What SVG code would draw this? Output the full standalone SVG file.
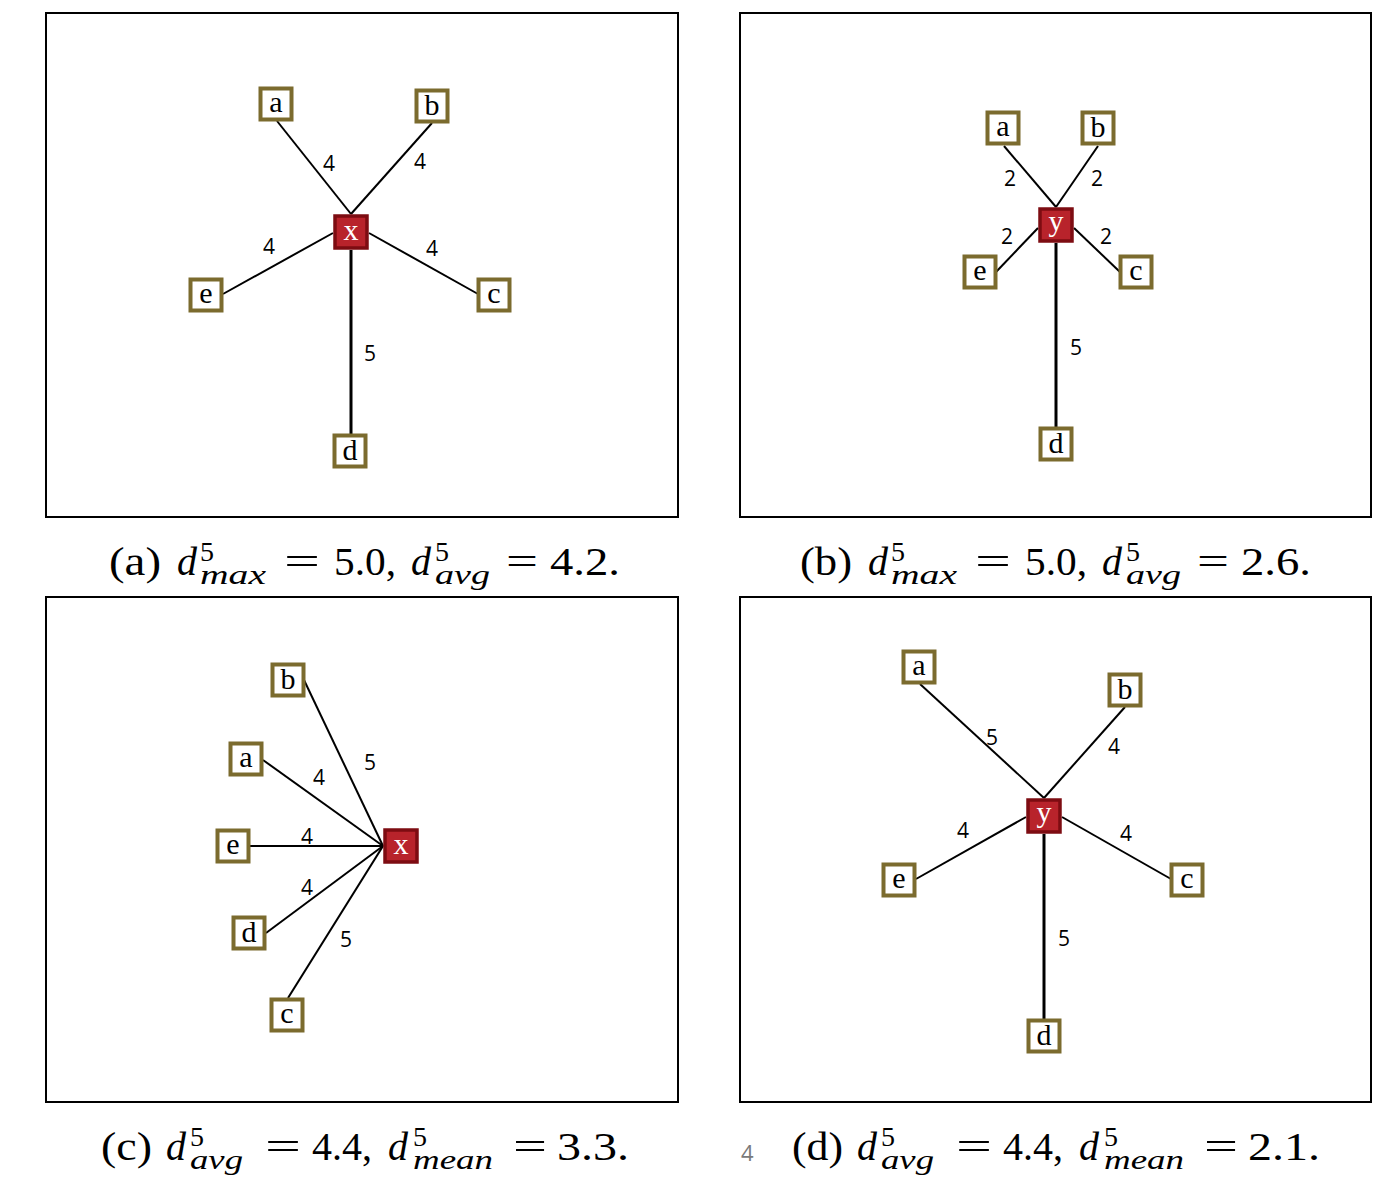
<svg xmlns="http://www.w3.org/2000/svg" width="1388" height="1182" viewBox="0 0 1388 1182">
<style>
.frame{fill:none;stroke:#000;stroke-width:2}
.nb{fill:#fff;stroke:#7b6b2e;stroke-width:4}
.nr{fill:#b8232b;stroke:#7d0c12;stroke-width:3.5}
.nl{font-family:"Liberation Serif",serif;font-size:30px;text-anchor:middle;fill:#000}
.nlw{font-family:"Liberation Serif",serif;font-size:30px;text-anchor:middle;fill:#fff}
.e{stroke:#000;stroke-width:2;fill:none}
.ev{stroke:#000;stroke-width:3;fill:none}
.el{font-family:"Open Sans","DejaVu Sans",sans-serif;font-size:21px;fill:#000;text-anchor:middle}
.cap{font-family:"Liberation Serif",serif;font-size:40px;fill:#000}
.i{font-style:italic}
.s{font-size:28px}
</style>
<rect width="1388" height="1182" fill="#fff"/>
<g id="frames">
<rect class="frame" x="46" y="13" width="632" height="504"/>
<rect class="frame" x="740" y="13" width="631" height="504"/>
<rect class="frame" x="46" y="597" width="632" height="505"/>
<rect class="frame" x="740" y="597" width="631" height="505"/>
</g>
<g id="connectors">
<line class="e" x1="277" y1="121" x2="351" y2="214"/>
<line class="e" x1="432" y1="123" x2="351" y2="214"/>
<line class="e" x1="223" y1="294" x2="333" y2="233"/>
<line class="e" x1="478" y1="294" x2="369" y2="233"/>
<line class="ev" x1="351" y1="250" x2="351" y2="434"/>
<line class="e" x1="1004" y1="146" x2="1056" y2="207"/>
<line class="e" x1="1098" y1="146" x2="1056" y2="207"/>
<line class="e" x1="996" y1="272" x2="1038" y2="228"/>
<line class="e" x1="1120" y1="272" x2="1074" y2="228"/>
<line class="ev" x1="1056" y1="243" x2="1056" y2="427"/>
<line class="e" x1="304" y1="680" x2="383" y2="846"/>
<line class="e" x1="263" y1="760" x2="383" y2="846"/>
<line class="e" x1="250" y1="846" x2="383" y2="846"/>
<line class="e" x1="266" y1="933" x2="383" y2="846"/>
<line class="e" x1="288" y1="998" x2="383" y2="846"/>
<line class="e" x1="920" y1="684" x2="1044" y2="798"/>
<line class="e" x1="1125" y1="707" x2="1044" y2="798"/>
<line class="e" x1="916" y1="879" x2="1026" y2="817"/>
<line class="e" x1="1171" y1="879" x2="1062" y2="817"/>
<line class="ev" x1="1044" y1="834" x2="1044" y2="1019"/>
</g>
<g id="edge-labels">
<text class="el" x="329" y="171">4</text>
<text class="el" x="420" y="169">4</text>
<text class="el" x="269" y="254">4</text>
<text class="el" x="432" y="256">4</text>
<text class="el" x="370" y="361">5</text>
<text class="el" x="1010" y="186">2</text>
<text class="el" x="1097" y="186">2</text>
<text class="el" x="1007" y="244">2</text>
<text class="el" x="1106" y="244">2</text>
<text class="el" x="1076" y="355">5</text>
<text class="el" x="370" y="770">5</text>
<text class="el" x="319" y="785">4</text>
<text class="el" x="307" y="844">4</text>
<text class="el" x="307" y="895">4</text>
<text class="el" x="346" y="947">5</text>
<text class="el" x="992" y="745">5</text>
<text class="el" x="1114" y="754">4</text>
<text class="el" x="963" y="838">4</text>
<text class="el" x="1126" y="841">4</text>
<text class="el" x="1064" y="946">5</text>
</g>
<g id="a-a" transform="translate(276,104)"><rect class="nb" x="-15.5" y="-15.5" width="31" height="31"/><text class="nl" y="8">a</text></g>
<g id="a-b" transform="translate(432,106)"><rect class="nb" x="-15.5" y="-15.5" width="31" height="31"/><text class="nl" y="9">b</text></g>
<g id="a-x" transform="translate(351,232)"><rect class="nr" x="-16" y="-16" width="32" height="32"/><text class="nlw" y="8">x</text></g>
<g id="a-e" transform="translate(206,295)"><rect class="nb" x="-15.5" y="-15.5" width="31" height="31"/><text class="nl" y="8">e</text></g>
<g id="a-c" transform="translate(494,295)"><rect class="nb" x="-15.5" y="-15.5" width="31" height="31"/><text class="nl" y="8">c</text></g>
<g id="a-d" transform="translate(350,451)"><rect class="nb" x="-15.5" y="-15.5" width="31" height="31"/><text class="nl" y="9">d</text></g>
<g id="b-a" transform="translate(1003,128)"><rect class="nb" x="-15.5" y="-15.5" width="31" height="31"/><text class="nl" y="8">a</text></g>
<g id="b-b" transform="translate(1098,128)"><rect class="nb" x="-15.5" y="-15.5" width="31" height="31"/><text class="nl" y="9">b</text></g>
<g id="b-y" transform="translate(1056,225)"><rect class="nr" x="-16" y="-16" width="32" height="32"/><text class="nlw" y="6">y</text></g>
<g id="b-e" transform="translate(980,272)"><rect class="nb" x="-15.5" y="-15.5" width="31" height="31"/><text class="nl" y="8">e</text></g>
<g id="b-c" transform="translate(1136,272)"><rect class="nb" x="-15.5" y="-15.5" width="31" height="31"/><text class="nl" y="8">c</text></g>
<g id="b-d" transform="translate(1056,444)"><rect class="nb" x="-15.5" y="-15.5" width="31" height="31"/><text class="nl" y="9">d</text></g>
<g id="c-b" transform="translate(288,680)"><rect class="nb" x="-15.5" y="-15.5" width="31" height="31"/><text class="nl" y="9">b</text></g>
<g id="c-a" transform="translate(246,759)"><rect class="nb" x="-15.5" y="-15.5" width="31" height="31"/><text class="nl" y="8">a</text></g>
<g id="c-e" transform="translate(233,846)"><rect class="nb" x="-15.5" y="-15.5" width="31" height="31"/><text class="nl" y="8">e</text></g>
<g id="c-d" transform="translate(249,933)"><rect class="nb" x="-15.5" y="-15.5" width="31" height="31"/><text class="nl" y="9">d</text></g>
<g id="c-c" transform="translate(287,1015)"><rect class="nb" x="-15.5" y="-15.5" width="31" height="31"/><text class="nl" y="8">c</text></g>
<g id="c-x" transform="translate(401,846)"><rect class="nr" x="-16" y="-16" width="32" height="32"/><text class="nlw" y="8">x</text></g>
<g id="d-a" transform="translate(919,667)"><rect class="nb" x="-15.5" y="-15.5" width="31" height="31"/><text class="nl" y="8">a</text></g>
<g id="d-b" transform="translate(1125,690)"><rect class="nb" x="-15.5" y="-15.5" width="31" height="31"/><text class="nl" y="9">b</text></g>
<g id="d-y" transform="translate(1044,816)"><rect class="nr" x="-16" y="-16" width="32" height="32"/><text class="nlw" y="6">y</text></g>
<g id="d-e" transform="translate(899,880)"><rect class="nb" x="-15.5" y="-15.5" width="31" height="31"/><text class="nl" y="8">e</text></g>
<g id="d-c" transform="translate(1187,880)"><rect class="nb" x="-15.5" y="-15.5" width="31" height="31"/><text class="nl" y="8">c</text></g>
<g id="d-d" transform="translate(1044,1036)"><rect class="nb" x="-15.5" y="-15.5" width="31" height="31"/><text class="nl" y="9">d</text></g>
<g id="captions" class="cap">
<g id="cap-a">
<text x="109" y="575" textLength="52" lengthAdjust="spacingAndGlyphs">(a)</text><text class="i" x="177" y="575">d</text><text class="s" x="200" y="561">5</text><text class="s i" x="200" y="584" textLength="66" lengthAdjust="spacingAndGlyphs">max</text>
<text x="284" y="575" textLength="36" lengthAdjust="spacingAndGlyphs">=</text><text x="334" y="575" textLength="62" lengthAdjust="spacingAndGlyphs">5.0,</text>
<text class="i" x="411" y="575">d</text><text class="s" x="435" y="561">5</text><text class="s i" x="435" y="584" textLength="55" lengthAdjust="spacingAndGlyphs">avg</text>
<text x="506" y="575" textLength="32" lengthAdjust="spacingAndGlyphs">=</text><text x="550" y="575" textLength="70" lengthAdjust="spacingAndGlyphs">4.2.</text>
</g>
<g id="cap-b" transform="translate(691,0)">
<text x="109" y="575" textLength="52" lengthAdjust="spacingAndGlyphs">(b)</text><text class="i" x="177" y="575">d</text><text class="s" x="200" y="561">5</text><text class="s i" x="200" y="584" textLength="66" lengthAdjust="spacingAndGlyphs">max</text>
<text x="284" y="575" textLength="36" lengthAdjust="spacingAndGlyphs">=</text><text x="334" y="575" textLength="62" lengthAdjust="spacingAndGlyphs">5.0,</text>
<text class="i" x="411" y="575">d</text><text class="s" x="435" y="561">5</text><text class="s i" x="435" y="584" textLength="55" lengthAdjust="spacingAndGlyphs">avg</text>
<text x="506" y="575" textLength="32" lengthAdjust="spacingAndGlyphs">=</text><text x="550" y="575" textLength="70" lengthAdjust="spacingAndGlyphs">2.6.</text>
</g>
<g id="cap-c">
<text x="101" y="1160" textLength="51" lengthAdjust="spacingAndGlyphs">(c)</text><text class="i" x="166" y="1160">d</text><text class="s" x="190" y="1146">5</text><text class="s i" x="190" y="1169" textLength="53" lengthAdjust="spacingAndGlyphs">avg</text>
<text x="265" y="1160" textLength="36" lengthAdjust="spacingAndGlyphs">=</text><text x="312" y="1160" textLength="60" lengthAdjust="spacingAndGlyphs">4.4,</text>
<text class="i" x="388" y="1160">d</text><text class="s" x="413" y="1146">5</text><text class="s i" x="413" y="1169" textLength="80" lengthAdjust="spacingAndGlyphs">mean</text>
<text x="513" y="1160" textLength="34" lengthAdjust="spacingAndGlyphs">=</text><text x="557" y="1160" textLength="72" lengthAdjust="spacingAndGlyphs">3.3.</text>
</g>
<g id="cap-d" transform="translate(691,0)">
<text x="101" y="1160" textLength="51" lengthAdjust="spacingAndGlyphs">(d)</text><text class="i" x="166" y="1160">d</text><text class="s" x="190" y="1146">5</text><text class="s i" x="190" y="1169" textLength="53" lengthAdjust="spacingAndGlyphs">avg</text>
<text x="265" y="1160" textLength="36" lengthAdjust="spacingAndGlyphs">=</text><text x="312" y="1160" textLength="60" lengthAdjust="spacingAndGlyphs">4.4,</text>
<text class="i" x="388" y="1160">d</text><text class="s" x="413" y="1146">5</text><text class="s i" x="413" y="1169" textLength="80" lengthAdjust="spacingAndGlyphs">mean</text>
<text x="513" y="1160" textLength="34" lengthAdjust="spacingAndGlyphs">=</text><text x="557" y="1160" textLength="72" lengthAdjust="spacingAndGlyphs">2.1.</text>
</g>
<text x="741" y="1161" font-family="Open Sans, DejaVu Sans, sans-serif" font-size="22" fill="#7a7a7a">4</text>
</g>
</svg>
